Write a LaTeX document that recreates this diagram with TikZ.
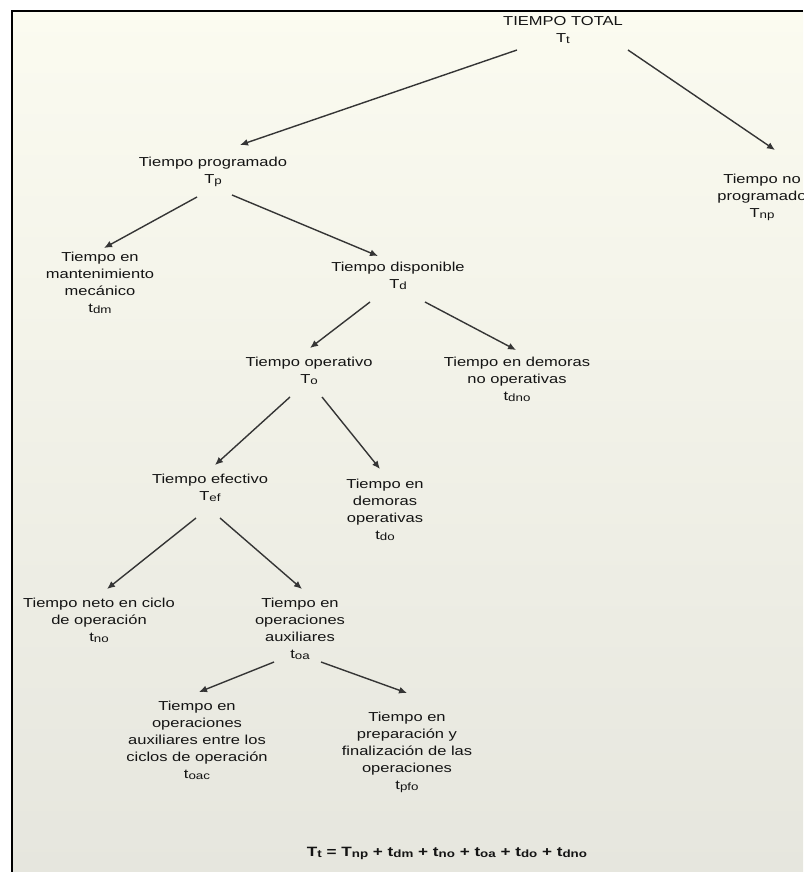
\documentclass[tikz,border=0pt]{standalone}
\usepackage{fontspec}
\setmainfont{Liberation Sans}[FakeStretch=1.27]
\usetikzlibrary{arrows.meta,calc}
\definecolor{ink}{HTML}{141414}
\definecolor{linec}{HTML}{353535}
\definecolor{bgtop}{HTML}{FBFBF0}
\definecolor{bgbot}{HTML}{E6E6DE}
\tikzset{
  lbl/.style={align=center, inner sep=0pt, anchor=north, text=ink,
    font=\fontsize{13}{17}\selectfont},
  formula/.style={inner sep=0pt, text=ink, font=\fontsize{13.5}{15}\selectfont\bfseries},
  arr/.style={draw=linec, line width=1.4pt, -{Latex[length=8pt,width=7pt]}},
  frameline/.style={draw=black, line width=1.8pt}
}
\newcommand{\sbs}[1]{\raisebox{-1pt}{\fontsize{10.5}{11}\selectfont #1}}
\begin{document}
\begin{tikzpicture}[x=1pt,y=-1pt]
\useasboundingbox (0,0) rectangle (803,872);
\fill[white] (0,0) rectangle (803,872);
\shade[top color=bgtop, bottom color=bgbot] (12,11) rectangle (803,872);
\draw[frameline] (12,872) -- (12,11) -- (803,11);

\node[lbl] (tt)   at (563,16)  {TIEMPO TOTAL\\T\sbs{t}};
\node[lbl] (tnp)  at (762,174) {Tiempo no\\programado\\T\sbs{np}};
\node[lbl] (tp)   at (213,157) {Tiempo programado\\T\sbs{p}};
\node[lbl] (tdm)  at (100,252) {Tiempo en\\mantenimiento\\mecánico\\t\sbs{dm}};
\node[lbl] (td)   at (398,262) {Tiempo disponible\\T\sbs{d}};
\node[lbl] (to)   at (309,357) {Tiempo operativo\\T\sbs{o}};
\node[lbl] (tdno) at (517,357) {Tiempo en demoras\\no operativas\\t\sbs{dno}};
\node[lbl] (tef)  at (210,474) {Tiempo efectivo\\T\sbs{ef}};
\node[lbl] (tdo)  at (385,479) {Tiempo en\\demoras\\operativas\\t\sbs{do}};
\node[lbl] (tno)  at (99,598)  {Tiempo neto en ciclo\\de operación\\t\sbs{no}};
\node[lbl] (toa)  at (300,598) {Tiempo en\\operaciones\\auxiliares\\t\sbs{oa}};
\node[lbl] (toac) at (197,701) {Tiempo en\\operaciones\\auxiliares entre los\\ciclos de operación\\t\sbs{oac}};
\node[lbl] (tpfo) at (407,712) {Tiempo en\\preparación y\\finalización de las\\operaciones\\t\sbs{pfo}};
\node[formula] (eq) at (447,853) {T\sbs{t} = T\sbs{np} + t\sbs{dm} + t\sbs{no} + t\sbs{oa} + t\sbs{do} + t\sbs{dno}};

\draw[arr] ($(tt.north)+(-46,34)$) -- ($(tp.north)+(27,-12)$);
\draw[arr] ($(tt.north)+(65,34)$)  -- ($(tnp.north)+(13,-24)$);
\draw[arr] ($(tp.north)+(-16,40)$) -- ($(tdm.north)+(4,-4)$);
\draw[arr] ($(tp.north)+(19,38)$)  -- ($(td.north)+(-20,-6)$);
\draw[arr] ($(td.north)+(-28,40)$) -- ($(to.north)+(1,-9)$);
\draw[arr] ($(td.north)+(27,40)$)  -- ($(tdno.north)+(-1,-7)$);
\draw[arr] ($(to.north)+(-19,40)$) -- ($(tef.north)+(5,-9)$);
\draw[arr] ($(to.north)+(13,40)$)  -- ($(tdo.north)+(-5,-10)$);
\draw[arr] ($(tef.north)+(-14,44)$) -- ($(tno.north)+(8,-9)$);
\draw[arr] ($(tef.north)+(10,44)$)  -- ($(toa.north)+(2,-9)$);
\draw[arr] ($(toa.north)+(-26,64)$) -- ($(toac.north)+(2,-9)$);
\draw[arr] ($(toa.north)+(21,64)$)  -- ($(tpfo.north)+(0,-19)$);
\end{tikzpicture}
\end{document}
